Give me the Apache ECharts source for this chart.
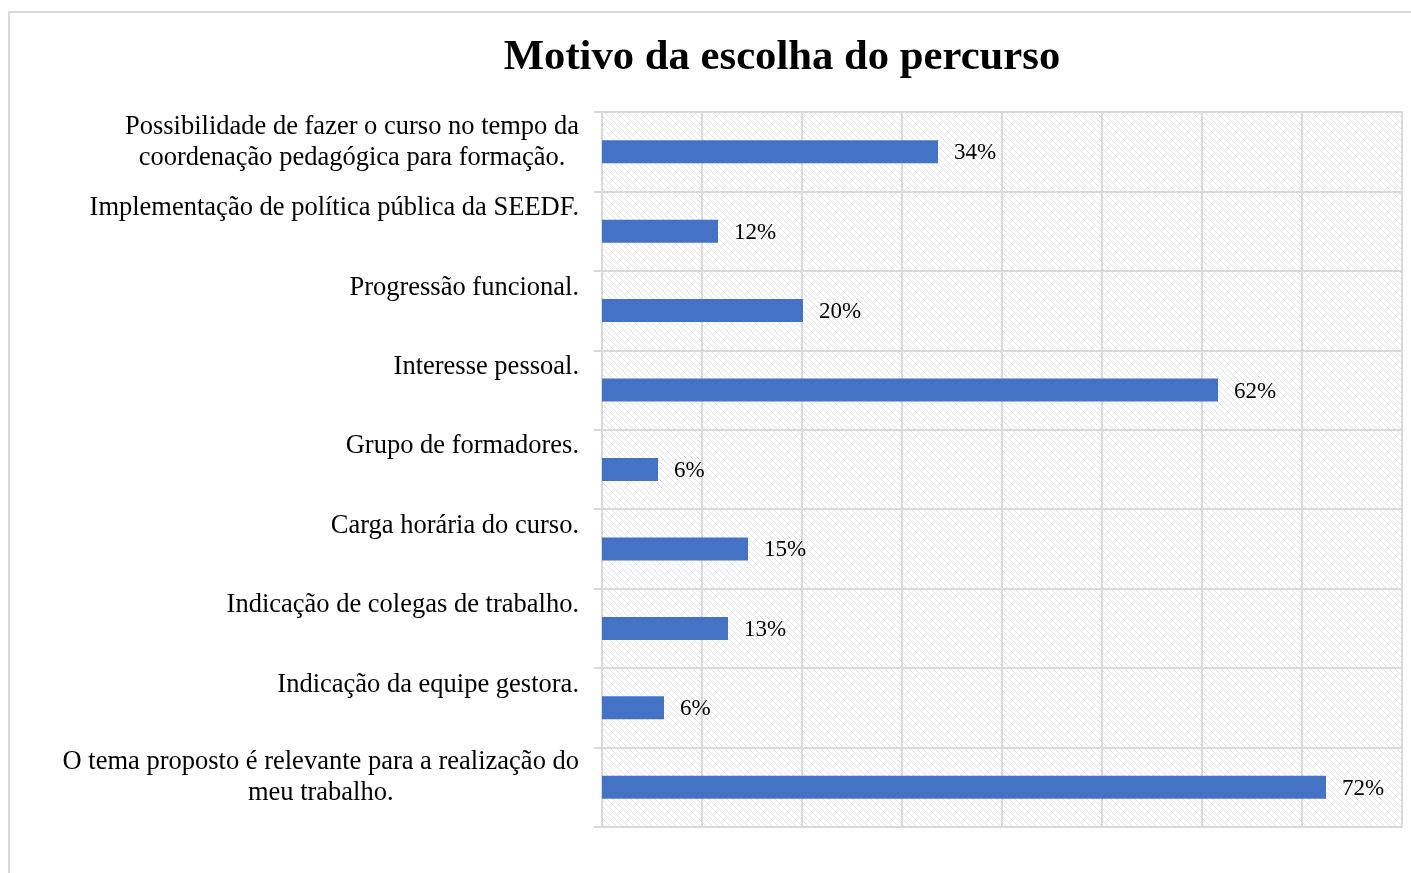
<!DOCTYPE html>
<html>
<head>
<meta charset="utf-8">
<script src="https://cdn.jsdelivr.net/npm/echarts@6/dist/echarts.min.js"></script>
<style>
  html, body { margin: 0; padding: 0; background: #fff; }
  #chart { width: 1411px; height: 873px; }
</style>
</head>
<body>
<div id="chart"></div>
<script>
// categories (top to bottom) and shares
const categories = [
  ['Possibilidade de fazer o curso no tempo da', 'coordenação pedagógica para formação.'],
  ['Implementação de política pública da SEEDF.'],
  ['Progressão funcional.'],
  ['Interesse pessoal.'],
  ['Grupo de formadores.'],
  ['Carga horária do curso.'],
  ['Indicação de colegas de trabalho.'],
  ['Indicação da equipe gestora.'],
  ['O tema proposto é relevante para a realização do', 'meu trabalho.']
];
const shares = [0.336, 0.116, 0.201, 0.616, 0.056, 0.146, 0.126, 0.062, 0.724];
const valueTicks = [0, 0.1, 0.2, 0.3, 0.4, 0.5, 0.6, 0.7, 0.8];

const FONT = '"Liberation Serif", "Times New Roman", serif';
const GRID_COLOR = '#d9d9d9';

// diagonal hatch for the plot background
const hatch = document.createElement('canvas');
hatch.width = 6; hatch.height = 6;
const hctx = hatch.getContext('2d');
hctx.strokeStyle = '#e2e2e2';
hctx.lineWidth = 1;
hctx.beginPath();
hctx.moveTo(-1, -1); hctx.lineTo(7, 7);
hctx.moveTo(-1, 5); hctx.lineTo(1, 7);
hctx.moveTo(5, -1); hctx.lineTo(7, 1);
hctx.stroke();

const chart = echarts.init(document.getElementById('chart'));

chart.setOption({
  backgroundColor: '#fff',
  animation: false,
  title: {
    text: 'Motivo da escolha do percurso',
    left: 777,
    top: 31,
    textAlign: 'center',
    textStyle: { fontFamily: FONT, fontSize: 42.7, fontWeight: 'bold', color: '#000' }
  },
  graphic: [{
    type: 'rect',
    shape: { x: 9, y: 12, width: 1420, height: 900 },
    style: { fill: 'none', stroke: GRID_COLOR, lineWidth: 2 },
    silent: true
  }],
  grid: {
    left: 602, right: 9, top: 112, bottom: 46,
    show: true,
    borderColor: GRID_COLOR,
    borderWidth: 2,
    backgroundColor: { image: hatch, repeat: 'repeat' }
  },
  xAxis: {
    type: 'value',
    min: valueTicks[0],
    max: valueTicks[valueTicks.length - 1],
    interval: 0.1,
    axisLine: { show: false },
    axisTick: { show: false },
    axisLabel: { show: false },
    splitLine: { show: true, lineStyle: { color: GRID_COLOR, width: 2 } }
  },
  yAxis: {
    type: 'category',
    inverse: true,
    data: categories.map(c => c.join('\n')),
    axisLine: { show: true, lineStyle: { color: GRID_COLOR, width: 2 } },
    axisTick: { show: true, length: 8, lineStyle: { color: GRID_COLOR, width: 2 } },
    splitLine: { show: true, lineStyle: { color: GRID_COLOR, width: 2 } },
    axisLabel: {
      margin: 23,
      fontFamily: FONT,
      fontSize: 26.5,
      color: '#000',
      formatter: function (v) {
        const lines = v.split('\n');
        if (lines.length > 1) {
          return lines.map(l => '{c|' + l + '}').join('\n') + '\n{s2| }';
        }
        return '{c|' + lines[0] + '}\n{s1| }';
      },
      rich: {
        c: { fontFamily: FONT, fontSize: 26.5, color: '#000', lineHeight: 31, align: 'center' },
        s1: { fontSize: 10, lineHeight: 46 },
        s2: { fontSize: 10, lineHeight: 19 }
      }
    }
  },
  series: [{
    type: 'bar',
    data: shares,
    barWidth: 23,
    itemStyle: { color: '#4472C4' },
    label: {
      show: true,
      position: 'right',
      distance: 16,
      offset: [0, 1.5],
      fontFamily: FONT,
      fontSize: 23,
      color: '#000',
      formatter: p => Math.round(p.value * 100) + '%'
    }
  }]
});
</script>
</body>
</html>
